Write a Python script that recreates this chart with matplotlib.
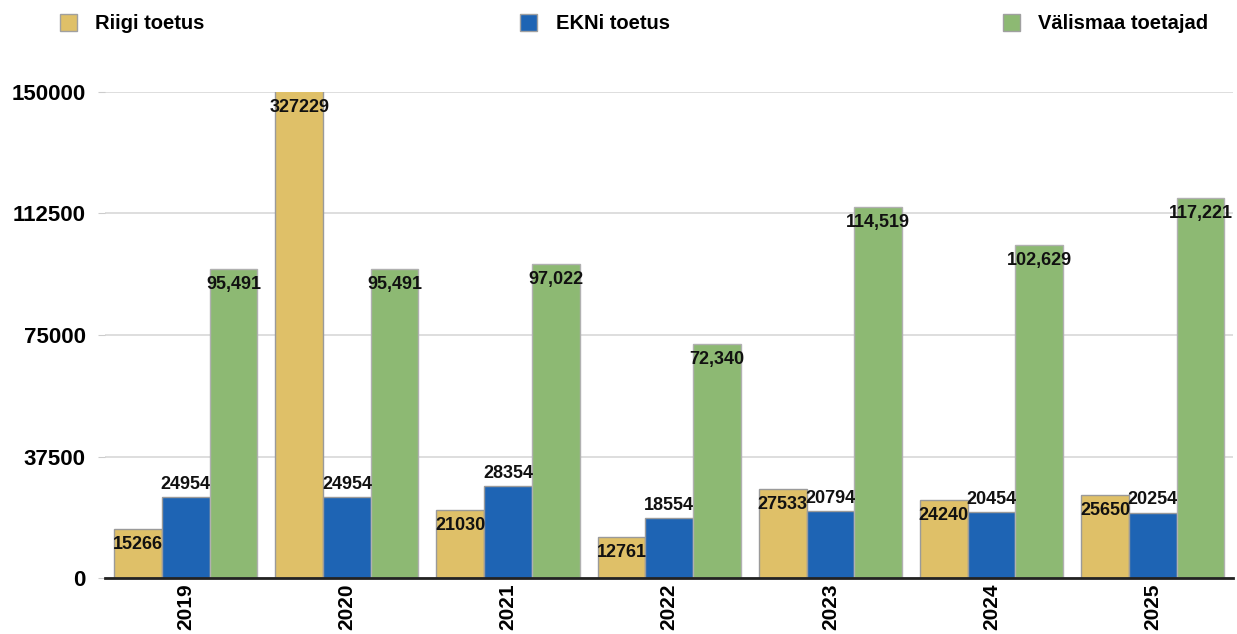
import matplotlib
matplotlib.use('Agg')
import matplotlib.pyplot as plt
from matplotlib.patches import Patch
import numpy as np

years = ['2019', '2020', '2021', '2022', '2023', '2024', '2025']
riigi = [15266, 327229, 21030, 12761, 27533, 24240, 25650]
ekni = [24954, 24954, 28354, 18554, 20794, 20454, 20254]
valismaa = [95491, 95491, 97022, 72340, 114519, 102629, 117221]
y_ticks = [0, 37500, 75000, 112500, 150000]

c_riigi = '#DFC068'
c_ekni = '#1E64B4'
c_valis = '#8DB973'

plt.rcParams['font.family'] = ['Liberation Sans', 'DejaVu Sans']
plt.rcParams['font.weight'] = 'bold'

fig = plt.figure(figsize=(12.37, 6.34), dpi=100)
ax = fig.add_axes([0.085, 0.088, 0.912, 0.767])

x = np.arange(len(years))
w = 0.296
ax.bar(x - w, riigi, w, color=c_riigi, edgecolor='#9a9a9a', linewidth=1, zorder=3)
ax.bar(x, ekni, w, color=c_ekni, edgecolor='#9a9a9a', linewidth=1, zorder=3)
ax.bar(x + w, valismaa, w, color=c_valis, edgecolor='#b0b0b0', linewidth=1, zorder=3)

ax.set_ylim(0, 150000)
ax.set_xlim(-0.5, len(years) - 0.5)

lab_kw = dict(ha='center', fontsize=13, fontweight='bold', color='#111111', zorder=5,
              textcoords='offset points')
# Riigi labels sit inside the bar top (2020 bar is cut at the axis top)
for xi, v in zip(x, riigi):
    top = min(v, 150000)
    ax.annotate(str(v), (xi - w, top), xytext=(0, -5), va='top', annotation_clip=False, **lab_kw)
for xi, v in zip(x, ekni):
    ax.annotate(str(v), (xi, v), xytext=(0, 3), va='bottom', **lab_kw)
for xi, v in zip(x, valismaa):
    ax.annotate(f'{v:,}', (xi + w, v), xytext=(0, -5), va='top', **lab_kw)

ax.set_yticks(y_ticks)
ax.set_yticklabels([str(t) for t in y_ticks], fontsize=16, fontweight='bold')
ax.set_xticks(x)
ax.set_xticklabels(years, rotation=90, fontsize=15, fontweight='bold')
ax.tick_params(axis='x', length=0, pad=4)
ax.tick_params(axis='y', length=5, color='#cccccc', pad=9)

ax.grid(axis='y', color='#d8d8d8', linewidth=1.2, zorder=0)
for s in ['top', 'right', 'left']:
    ax.spines[s].set_visible(False)
ax.spines['bottom'].set_color('#222222')
ax.spines['bottom'].set_linewidth(2)
ax.spines['bottom'].set_zorder(4)

legend_items = [('Riigi toetus', c_riigi, 0.034),
                ('EKNi toetus', c_ekni, 0.406),
                ('Välismaa toetajad', c_valis, 0.796)]
for name, col, lx in legend_items:
    fig.legend(handles=[Patch(facecolor=col, edgecolor='#a0a0a0', label=name)],
               loc='center left', bbox_to_anchor=(lx, 0.963), frameon=False,
               prop={'size': 14.5, 'weight': 'bold'}, handlelength=0.85, handleheight=0.95,
               handletextpad=0.9)

fig.savefig('out.png', dpi=100)
